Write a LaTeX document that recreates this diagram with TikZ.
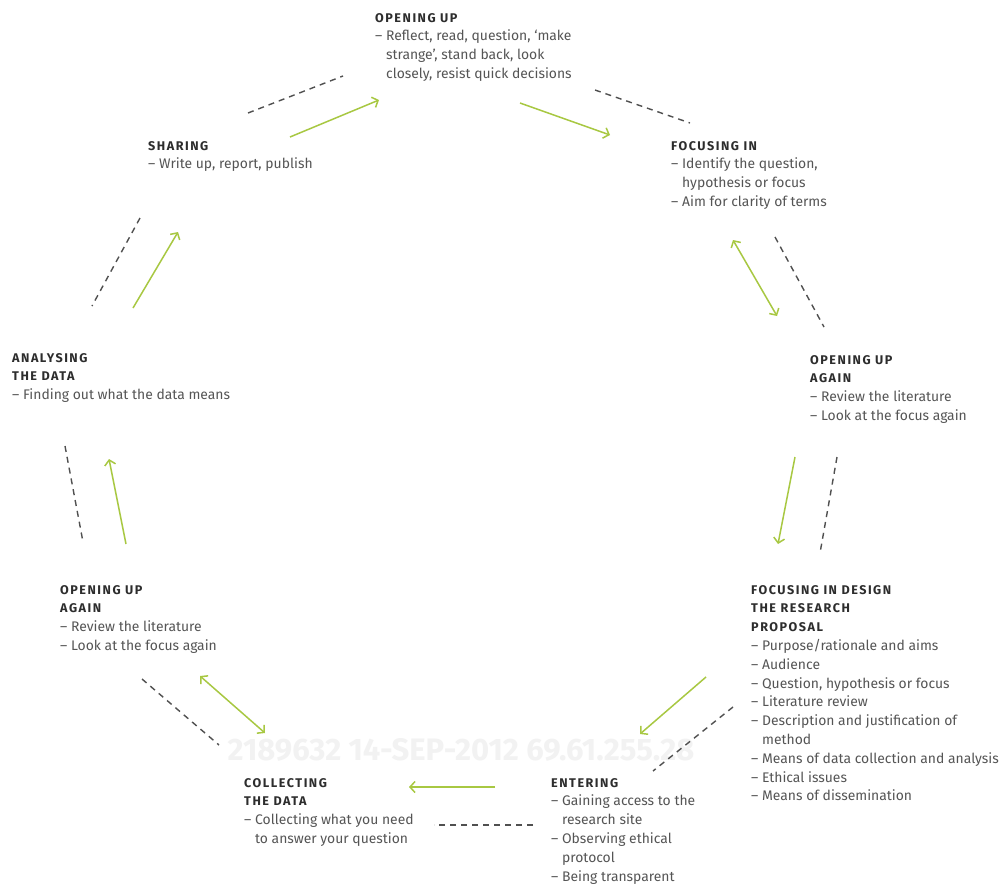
\documentclass[tikz,border=0pt]{standalone}
\usepackage{fontspec}
\setmainfont{Fira Sans}
\newfontfamily\headfont{Fira Sans}[LetterSpace=12]
\usetikzlibrary{arrows.meta}
\definecolor{arrgreen}{RGB}{168,200,66}
\definecolor{dashgray}{RGB}{80,80,80}
\definecolor{txtgray}{RGB}{85,85,85}
\definecolor{hdgray}{RGB}{45,45,45}
\newcommand{\hd}[1]{{\headfont\bfseries\fontsize{12.6}{18.8}\selectfont\color{hdgray}#1}}
\newcommand{\hi}{\phantom{–\ }}
\begin{document}
\begin{tikzpicture}[x=1pt,y=-1pt,
  lbl/.style={anchor=north west, inner sep=0pt, align=left, font=\fontsize{13.9}{18.8}\selectfont, text=txtgray},
  garrow/.style={draw=arrgreen, line width=1.5pt, -{Straight Barb[length=5pt,width=11pt]}},
  gdouble/.style={draw=arrgreen, line width=1.5pt, {Straight Barb[length=5pt,width=11pt]}-{Straight Barb[length=5pt,width=11pt]}},
  dline/.style={draw=dashgray, line width=1.4pt, dash pattern=on 6pt off 5pt}]
\path[use as bounding box, fill=white] (0,0) rectangle (1003,886);

% watermark
\node[text=black!5, font=\bfseries\fontsize{31}{31}\selectfont, inner sep=0pt] (wm) at (461,750) {2189632 14-SEP-2012 69.61.255.28};

% text blocks
\node[lbl] (ou) at (375,13) {\hd{OPENING UP}\\– Reflect, read, question, ‘make\\\hi strange’, stand back, look\\\hi closely, resist quick decisions};
\node[lbl] (sh) at (148,141) {\hd{SHARING}\\– Write up, report, publish};
\node[lbl] (fi) at (671,141) {\hd{FOCUSING IN}\\– Identify the question,\\\hi hypothesis or focus\\– Aim for clarity of terms};
\node[lbl] (oar) at (810,355) {\hd{OPENING UP}\\\hd{AGAIN}\\– Review the literature\\– Look at the focus again};
\node[lbl] (an) at (12,353) {\hd{ANALYSING}\\\hd{THE DATA}\\– Finding out what the data means};
\node[lbl] (oal) at (60,585) {\hd{OPENING UP}\\\hd{AGAIN}\\– Review the literature\\– Look at the focus again};
\node[lbl] (fd) at (751,585) {\hd{FOCUSING IN DESIGN}\\\hd{THE RESEARCH}\\\hd{PROPOSAL}\\– Purpose/rationale and aims\\– Audience\\– Question, hypothesis or focus\\– Literature review\\– Description and justification of\\\hi method\\– Means of data collection and analysis\\– Ethical issues\\– Means of dissemination};
\node[lbl] (co) at (244,778) {\hd{COLLECTING}\\\hd{THE DATA}\\– Collecting what you need\\\hi to answer your question};
\node[lbl] (en) at (551,778) {\hd{ENTERING}\\– Gaining access to the\\\hi research site\\– Observing ethical\\\hi protocol\\– Being transparent};

% connector end points
\coordinate (a1s) at (290,137); \coordinate (a1e) at (379,100);
\coordinate (d1s) at (248,113); \coordinate (d1e) at (343,76);
\coordinate (a2s) at (520,103); \coordinate (a2e) at (610,135);
\coordinate (d2s) at (595,90);  \coordinate (d2e) at (690,123);
\coordinate (a3s) at (733,240); \coordinate (a3e) at (777,316);
\coordinate (d3s) at (775,237); \coordinate (d3e) at (824,327);
\coordinate (a4s) at (795,457); \coordinate (a4e) at (778,544);
\coordinate (d4s) at (837,457); \coordinate (d4e) at (820,553);
\coordinate (a5s) at (706,677); \coordinate (a5e) at (640,734);
\coordinate (d5s) at (733,707); \coordinate (d5e) at (653,771);
\coordinate (a6s) at (495,787); \coordinate (a6e) at (409,787);
\coordinate (d6s) at (533,825); \coordinate (d6e) at (434,825);
\coordinate (a7s) at (200,676); \coordinate (a7e) at (265,733);
\coordinate (d7s) at (142,679); \coordinate (d7e) at (219,745);
\coordinate (a8s) at (126,544); \coordinate (a8e) at (109,459);
\coordinate (d8s) at (65,446);  \coordinate (d8e) at (83,542);
\coordinate (a9s) at (133,308); \coordinate (a9e) at (178,232);
\coordinate (d9s) at (140,218); \coordinate (d9e) at (92,306);

\draw[garrow] (a1s) -- (a1e);
\draw[dline] (d1s) -- (d1e);
\draw[garrow] (a2s) -- (a2e);
\draw[dline] (d2s) -- (d2e);
\draw[gdouble] (a3s) -- (a3e);
\draw[dline] (d3s) -- (d3e);
\draw[garrow] (a4s) -- (a4e);
\draw[dline] (d4s) -- (d4e);
\draw[garrow] (a5s) -- (a5e);
\draw[dline] (d5s) -- (d5e);
\draw[garrow] (a6s) -- (a6e);
\draw[dline] (d6s) -- (d6e);
\draw[gdouble] (a7s) -- (a7e);
\draw[dline] (d7s) -- (d7e);
\draw[garrow] (a8s) -- (a8e);
\draw[dline] (d8s) -- (d8e);
\draw[garrow] (a9s) -- (a9e);
\draw[dline] (d9s) -- (d9e);
\end{tikzpicture}
\end{document}
